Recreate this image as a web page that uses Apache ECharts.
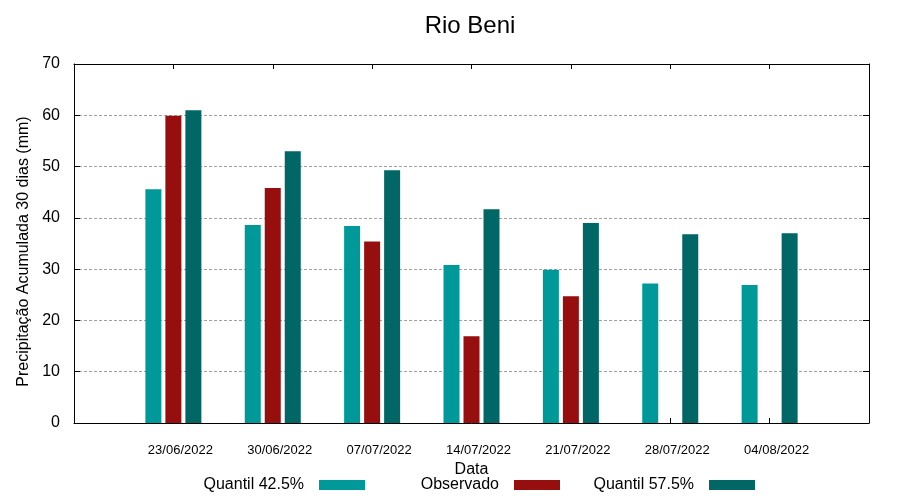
<!DOCTYPE html>
<html>
<head>
<meta charset="utf-8">
<script src="https://cdn.jsdelivr.net/npm/echarts@6/dist/echarts.min.js"></script>
<style>html,body{margin:0;padding:0;background:#fff;}#c{width:900px;height:500px;}</style>
</head>
<body>
<div id="c"></div>
<script>
const categories = ['23/06/2022', '30/06/2022', '07/07/2022', '14/07/2022', '21/07/2022', '28/07/2022', '04/08/2022'];
const quantil425 = [45.6, 38.6, 38.4, 30.8, 29.9, 27.2, 26.9];
const observado = [59.9, 45.8, 35.4, 16.9, 24.7, null, null];
const quantil575 = [61.0, 53.0, 49.3, 41.7, 39.0, 36.8, 37.0];
const yTicks = [0, 10, 20, 30, 40, 50, 60, 70];

const FONT = 'Liberation Sans, Arial, sans-serif';
// pad categories so the axis spans one extra slot on each side
const axisCats = [''].concat(categories, ['']);
const pad = arr => [null].concat(arr, [null]);

const chart = echarts.init(document.getElementById('c'), null, {renderer: 'canvas'});
const legendBase = {
  orient: 'horizontal', top: 472, align: 'right', itemWidth: 46, itemHeight: 10,
  icon: 'rect', selectedMode: false,
  textStyle: {fontFamily: FONT, fontSize: 16, color: '#000', padding: [0, 10, 0, 0]}
};
const xTick = {show: true, inside: true, length: 5, lineStyle: {color: '#000', width: 1}};
const yTick = {show: true, inside: true, length: 6, lineStyle: {color: '#000', width: 1}};
chart.setOption({
  animation: false,
  backgroundColor: '#fff',
  title: {
    text: 'Rio Beni', left: 465, top: 9, textAlign: 'center',
    textStyle: {fontFamily: FONT, fontSize: 24, fontWeight: 'normal', color: '#000'}
  },
  legend: [
    Object.assign({}, legendBase, {data: ['Quantil 42.5%'], right: 530}),
    Object.assign({}, legendBase, {data: ['Observado'], right: 335}),
    Object.assign({}, legendBase, {data: ['Quantil 57.5%'], right: 140})
  ],
  grid: {left: 74, right: 31, top: 64, bottom: 77, show: false, containLabel: false},
  xAxis: [{
    type: 'category', data: axisCats, boundaryGap: false, position: 'bottom',
    name: 'Data', nameLocation: 'middle', nameGap: 38,
    nameTextStyle: {fontFamily: FONT, fontSize: 16, color: '#000'},
    axisLine: {onZero: false, lineStyle: {color: '#000', width: 1}},
    axisTick: xTick,
    axisLabel: {fontFamily: FONT, fontSize: 13, color: '#000', margin: 21, padding: [0, 0, 0, 14], interval: 0},
    splitLine: {show: false}
  }, {
    type: 'category', data: axisCats, boundaryGap: false, position: 'top',
    axisLine: {onZero: false, lineStyle: {color: '#000', width: 1}},
    axisTick: xTick,
    axisLabel: {show: false}, splitLine: {show: false}
  }],
  yAxis: [{
    type: 'value', min: 0, max: 70, interval: 10,
    name: 'Precipitação Acumulada 30 dias (mm)', nameLocation: 'middle', nameGap: 33, nameRotate: 90,
    nameTextStyle: {fontFamily: FONT, fontSize: 16, color: '#000', padding: [0, 16, 0, 0]},
    axisLine: {show: true, onZero: false, lineStyle: {color: '#000', width: 1}},
    axisTick: yTick,
    axisLabel: {fontFamily: FONT, fontSize: 16, color: '#000', margin: 14,
      formatter: v => (yTicks.indexOf(v) >= 0 ? String(v) : '')},
    splitLine: {show: true, lineStyle: {color: '#a0a0a0', type: [3, 2], width: 1}}
  }, {
    type: 'value', min: 0, max: 70, interval: 10, position: 'right',
    axisLine: {show: true, onZero: false, lineStyle: {color: '#000', width: 1}},
    axisTick: yTick,
    axisLabel: {show: false}, splitLine: {show: false}
  }],
  series: [
    {name: 'Quantil 42.5%', type: 'bar', data: pad(quantil425), barWidth: 16, barGap: '25%', itemStyle: {color: '#009999'}},
    {name: 'Observado', type: 'bar', data: pad(observado), barWidth: 16, barGap: '25%', itemStyle: {color: '#960e0e'}},
    {name: 'Quantil 57.5%', type: 'bar', data: pad(quantil575), barWidth: 16, barGap: '25%', itemStyle: {color: '#006666'}}
  ]
});
</script>
</body>
</html>
